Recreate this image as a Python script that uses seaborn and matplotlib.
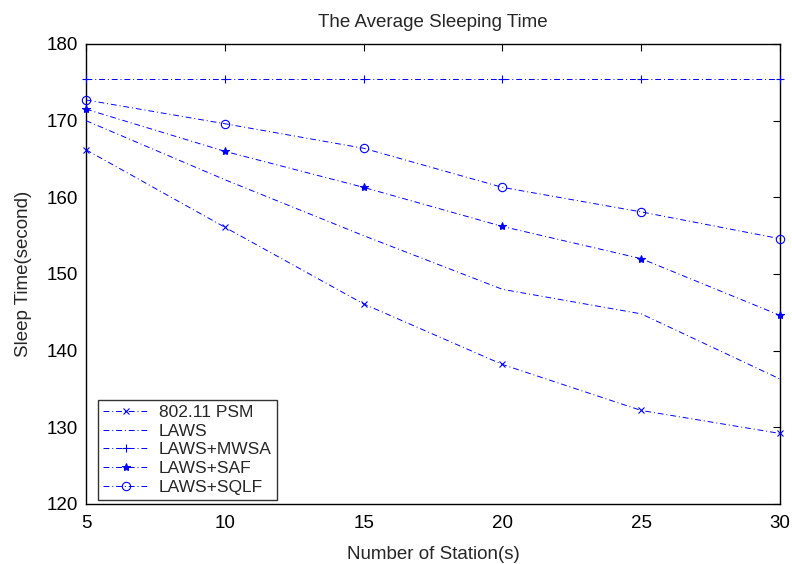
import numpy as np
import pandas as pd
import seaborn as sns
import matplotlib.pyplot as plt

stations = [5, 10, 15, 20, 25, 30]
psm = [166.2, 156.1, 146.1, 138.2, 132.2, 129.2]
laws = [170.0, 162.3, 155.0, 148.0, 144.8, 136.3]
mwsa = [175.4, 175.4, 175.4, 175.4, 175.4, 175.4]
saf = [171.5, 166.0, 161.3, 156.2, 152.0, 144.6]
sqlf = [172.7, 169.6, 166.4, 161.3, 158.1, 154.6]

series_names = ["802.11 PSM", "LAWS", "LAWS+MWSA", "LAWS+SAF", "LAWS+SQLF"]
series_vals = [psm, laws, mwsa, saf, sqlf]
markers = ["x", "", "+", "*", "o"]

sns.set_style("white")
plt.rcParams["font.family"] = ["Liberation Sans", "DejaVu Sans"]

df = pd.DataFrame({
    "station": stations * len(series_names),
    "sleep": np.concatenate(series_vals),
    "method": np.repeat(series_names, len(stations)),
})

fig = plt.figure(figsize=(7.92, 5.64), dpi=100)
ax = fig.add_axes([0.1086, 0.1064, 0.8763, 0.8156])

msize = {"x": 5, "+": 6, "*": 6, "o": 6}
for name, m in zip(series_names, markers):
    sub = df[df["method"] == name]
    sns.lineplot(data=sub, x="station", y="sleep", ax=ax, color="blue",
                 linestyle=(0, (6, 3, 1, 3)), linewidth=0.7,
                 marker=m if m else None, markersize=msize.get(m, 0),
                 markerfacecolor="none" if m == "o" else "blue",
                 markeredgecolor="blue", markeredgewidth=0.8, label=name,
                 clip_on=False, zorder=3)

ax.set_xlim(5, 30)
ax.set_ylim(120, 180)
ax.set_xticks(stations)
ax.set_yticks(range(120, 181, 10))
ax.tick_params(direction="in", top=True, right=True, length=5, width=0.8,
               labelsize=13.5, colors="black")
ax.tick_params(axis="x", pad=8)
ax.tick_params(axis="y", pad=6)
for s in ax.spines.values():
    s.set_color("black")
    s.set_linewidth(1.0)
ax.set_xlabel("Number of Station(s)", fontsize=13.5, labelpad=10)
ax.set_ylabel("Sleep Time(second)", fontsize=13.5, labelpad=10)
ax.set_title("The Average Sleeping Time", fontsize=13.5, pad=12)

leg = ax.legend(loc="lower left", bbox_to_anchor=(0.017, 0.009),
                fontsize=12.5, frameon=True, fancybox=False,
                borderpad=0.3, labelspacing=0.2, handlelength=2.6,
                handletextpad=0.6, borderaxespad=0)
leg.get_frame().set_edgecolor("black")
leg.get_frame().set_linewidth(1.0)
leg.set_zorder(5)

fig.savefig("out.png", dpi=100)
